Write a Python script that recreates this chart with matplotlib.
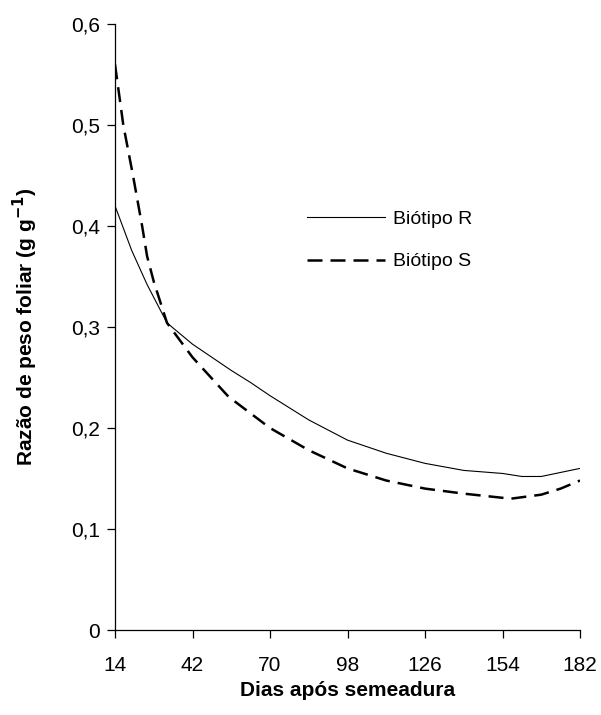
import numpy as np
import matplotlib.pyplot as plt

plt.rcParams['font.family'] = ['Liberation Sans', 'DejaVu Sans']

# valores
dias_r = [14, 20, 25.6, 32.8, 42, 56, 63, 70, 84, 98, 112, 126, 140, 154, 161, 168, 182]
biotipo_r = [0.42, 0.376, 0.342, 0.304, 0.283, 0.257, 0.245, 0.232, 0.208, 0.188, 0.175, 0.165, 0.158, 0.155, 0.152, 0.152, 0.16]

dias_s = [14, 17, 20.5, 23.8, 25.6, 28, 32.8, 42, 55, 70, 84, 98, 112, 126, 140, 157, 168, 175, 182]
biotipo_s = [0.56, 0.50, 0.45, 0.40, 0.37, 0.345, 0.304, 0.27, 0.231, 0.20, 0.178, 0.16, 0.148, 0.14, 0.135, 0.13, 0.134, 0.14, 0.148]

x_ticks = [14, 42, 70, 98, 126, 154, 182]
y_ticks = [0, 0.1, 0.2, 0.3, 0.4, 0.5, 0.6]
y_labels = ['0', '0,1', '0,2', '0,3', '0,4', '0,5', '0,6']

fig = plt.figure(figsize=(6.01, 7.15), dpi=100)
ax = fig.add_axes([115 / 601, 1 - 630 / 715, 465 / 601, 606 / 715])

ax.plot(dias_r, biotipo_r, color='black', lw=0.8, label='Biótipo R')
ax.plot(dias_s, biotipo_s, color='black', lw=1.8, dashes=(6, 3.2), label='Biótipo S')

ax.set_xlim(14, 182)
ax.set_ylim(0, 0.6)
ax.set_xticks(x_ticks)
ax.set_xticklabels([str(v) for v in x_ticks])
ax.set_yticks(y_ticks)
ax.set_yticklabels(y_labels)

for s in ['top', 'right']:
    ax.spines[s].set_visible(False)
for s in ['left', 'bottom']:
    ax.spines[s].set_linewidth(0.9)

ax.tick_params(axis='both', direction='out', length=6, width=0.9, labelsize=15)
ax.tick_params(axis='x', pad=13)
ax.tick_params(axis='y', pad=5)

ax.set_xlabel('Dias após semeadura', fontsize=15, fontweight='bold', labelpad=4)
ax.set_ylabel(r'Razão de peso foliar (g g$^{\mathbf{-1}}$)', fontsize=15,
              fontweight='bold', labelpad=22)

ax.legend(loc='upper left', bbox_to_anchor=(307 / 601, 1 - 210 / 715),
          bbox_transform=fig.transFigure, frameon=False, fontsize=14,
          handlelength=4.0, handletextpad=0.4, borderpad=0, borderaxespad=0,
          labelspacing=1.3)

fig.savefig('out.png', dpi=100)
